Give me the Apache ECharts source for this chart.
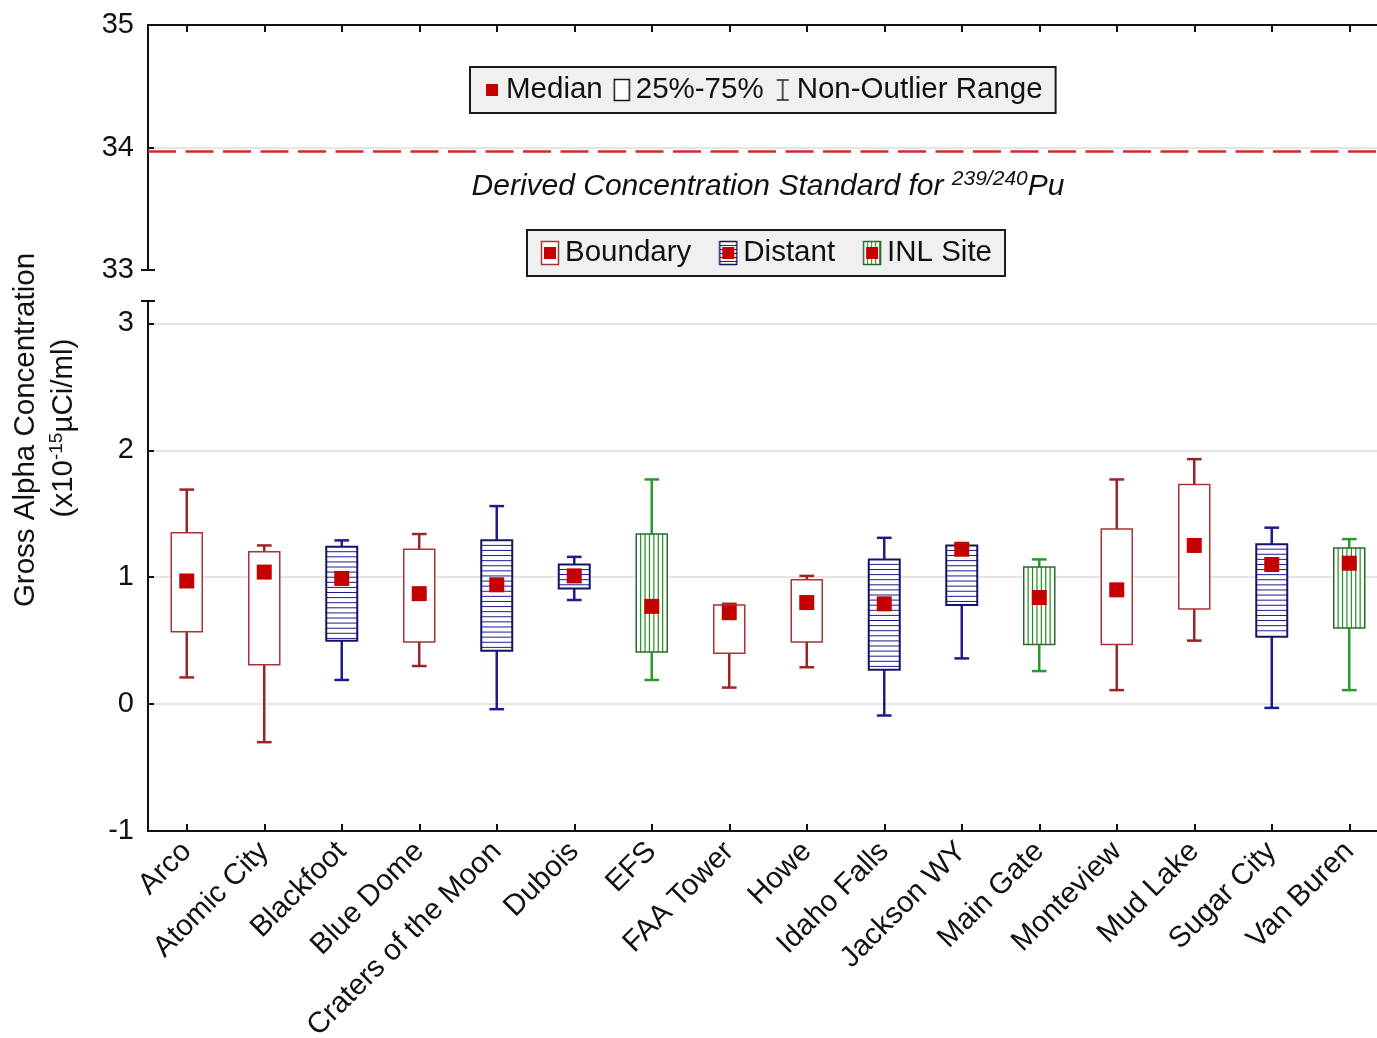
<!DOCTYPE html>
<html><head><meta charset="utf-8">
<script src="https://cdn.jsdelivr.net/npm/echarts@6/dist/echarts.min.js"></script>
<style>html,body{margin:0;padding:0;background:#fff}#c{width:1377px;height:1038px}</style>
</head><body><div id="c"></div>
<script>
// ---------- data ----------
const categories = ['Arco','Atomic City','Blackfoot','Blue Dome','Craters of the Moon','Dubois','EFS','FAA Tower','Howe','Idaho Falls','Jackson WY','Main Gate','Monteview','Mud Lake','Sugar City','Van Buren'];
const groups = ['Boundary','Boundary','Distant','Boundary','Distant','Distant','INL Site','Boundary','Boundary','Distant','Distant','INL Site','Boundary','Boundary','Distant','INL Site'];
const whiskerLow  = [0.21,-0.30,0.19,0.30,-0.04,0.82,0.19,0.13,0.29,-0.09,0.36,0.26,0.11,0.50,-0.03,0.11];
const q1          = [0.57, 0.31,0.50,0.49, 0.42,0.91,0.41,0.40,0.49, 0.27,0.78,0.47,0.47,0.75, 0.53,0.60];
const median      = [0.97, 1.04,0.99,0.87, 0.94,1.01,0.77,0.72,0.80, 0.79,1.22,0.84,0.90,1.25, 1.10,1.11];
const q3          = [1.35, 1.20,1.24,1.22, 1.29,1.10,1.34,0.78,0.98, 1.14,1.25,1.08,1.38,1.73, 1.26,1.23];
const whiskerHigh = [1.69, 1.25,1.29,1.34, 1.56,1.16,1.77,0.79,1.01, 1.31,1.25,1.14,1.77,1.93, 1.39,1.30];
const groupNames = ['Boundary','Distant','INL Site'];
const dcsValue = 33.967;
const topTicks = [33, 34, 35];
const bottomTicks = [-1, 0, 1, 2, 3];
const bottomAxisTop = 3.176;

// ---------- styles ----------
const FONT = "'Liberation Sans', Arial, sans-serif";
const RED = '#c40000';
const groupStyle = {
  'Boundary': {whisker:'#9c2424', box:'#a83434', boxW:1.5, stripe:null},
  'Distant':  {whisker:'#1c1c8e', box:'#141466', boxW:2, stripe:'h', stripeColor:'#1c1c8e'},
  'INL Site': {whisker:'#2a9a2a', box:'#2c682c', boxW:1.5, stripe:'v', stripeColor:'#1f901f'}
};

function makeIcon(w, h, draw){
  const c = document.createElement('canvas');
  c.width = w; c.height = h;
  const ctx = c.getContext('2d');
  draw(ctx, w, h);
  return 'image://' + c.toDataURL();
}
const iconMedian = makeIcon(18, 24, (ctx) => { ctx.fillStyle = RED; ctx.fillRect(3, 6, 12, 12); });
const iconBox = makeIcon(18, 24, (ctx) => { ctx.fillStyle='#fff'; ctx.fillRect(1,1,16,22); ctx.strokeStyle='#111'; ctx.lineWidth=1.5; ctx.strokeRect(1.5,1.5,15,21); });
const iconWhisk = makeIcon(18, 24, (ctx) => { ctx.strokeStyle='#222'; ctx.lineWidth=1.5; ctx.beginPath(); ctx.moveTo(9,2); ctx.lineTo(9,22); ctx.moveTo(3,2); ctx.lineTo(15,2); ctx.moveTo(3,22); ctx.lineTo(15,22); ctx.stroke(); });
function groupIcon(g){
  const s = groupStyle[g];
  return makeIcon(20, 26, (ctx, w, h) => {
    ctx.fillStyle = '#fff'; ctx.fillRect(1,1,w-2,h-2);
    if (s.stripe === 'h') { ctx.strokeStyle = s.stripeColor; ctx.lineWidth = 1; for (let y = 5; y < h-2; y += 4) { ctx.beginPath(); ctx.moveTo(1,y+0.5); ctx.lineTo(w-1,y+0.5); ctx.stroke(); } }
    if (s.stripe === 'v') { ctx.strokeStyle = s.stripeColor; ctx.lineWidth = 1; for (let x = 5; x < w-2; x += 4) { ctx.beginPath(); ctx.moveTo(x+0.5,1); ctx.lineTo(x+0.5,h-1); ctx.stroke(); } }
    ctx.strokeStyle = s.box; ctx.lineWidth = 1.5; ctx.strokeRect(1.5,1.5,w-3,h-3);
    ctx.fillStyle = RED; ctx.fillRect(4, 7, 12, 12);
  });
}

function makeRender(g){
  const s = groupStyle[g];
  return function(params, api){
    const i = api.value(0);
    const pL = api.coord([i, api.value(1)]);
    const p1 = api.coord([i, api.value(2)]);
    const p3 = api.coord([i, api.value(3)]);
    const pH = api.coord([i, api.value(4)]);
    const band = api.size([1, 0])[0];
    const bw = band * 0.40, cw = band * 0.19;
    const x = pL[0];
    const left = x - bw / 2, right = x + bw / 2;
    const wl = {stroke: s.whisker, lineWidth: 2.5};
    const ch = [];
    ch.push({type:'line', shape:{x1:x, y1:pH[1], x2:x, y2:p3[1]}, style:wl});
    ch.push({type:'line', shape:{x1:x, y1:p1[1], x2:x, y2:pL[1]}, style:wl});
    ch.push({type:'line', shape:{x1:x-cw/2, y1:pH[1], x2:x+cw/2, y2:pH[1]}, style:wl});
    ch.push({type:'line', shape:{x1:x-cw/2, y1:pL[1], x2:x+cw/2, y2:pL[1]}, style:wl});
    ch.push({type:'rect', shape:{x:left, y:p3[1], width:bw, height:p1[1]-p3[1]}, style:{fill:'#fff', stroke:null}});
    if (s.stripe === 'h') {
      for (let y = p3[1] + 5; y < p1[1] - 1.5; y += 5.1) {
        ch.push({type:'line', shape:{x1:left, y1:y, x2:right, y2:y}, style:{stroke:s.stripeColor, lineWidth:1}});
      }
    } else if (s.stripe === 'v') {
      for (let xx = left + 4.4; xx < right - 1.5; xx += 4.4) {
        ch.push({type:'line', shape:{x1:xx, y1:p3[1], x2:xx, y2:p1[1]}, style:{stroke:s.stripeColor, lineWidth:1.2}});
      }
    }
    ch.push({type:'rect', shape:{x:left, y:p3[1], width:bw, height:p1[1]-p3[1]}, style:{fill:null, stroke:s.box, lineWidth:s.boxW}});
    return {type:'group', children:ch};
  };
}

const boxSeries = groupNames.map(g => ({
  name: g,
  type: 'custom',
  xAxisIndex: 1, yAxisIndex: 1,
  renderItem: makeRender(g),
  encode: {x: 0, y: [1, 2, 3, 4]},
  data: categories.map((c, i) => groups[i] === g ? [i, whiskerLow[i], q1[i], q3[i], whiskerHigh[i]] : null).filter(d => d),
  z: 2
}));

const axisLineStyle = {color:'#111', width:2};
const labelStyle = {color:'#111', fontSize:29, fontFamily:FONT};
const xTick = {show:true, inside:true, alignWithLabel:true, interval:0, length:7, lineStyle:{color:'#111', width:2}};

const option = {
  animation: false,
  backgroundColor: '#fff',
  textStyle: {fontFamily: FONT},
  grid: [
    {left:148, top:25, width:1240, height:245, outerBoundsMode:'none', containLabel:false},
    {left:148, top:301, width:1240, height:530, outerBoundsMode:'none', containLabel:false}
  ],
  xAxis: [
    {gridIndex:0, type:'category', data:categories, position:'top', boundaryGap:true,
     axisLine:{onZero:false, lineStyle:axisLineStyle}, axisTick:xTick,
     axisLabel:{show:false, interval:0}, splitLine:{show:false}},
    {gridIndex:1, type:'category', data:categories, position:'bottom', boundaryGap:true,
     axisLine:{onZero:false, lineStyle:axisLineStyle}, axisTick:xTick,
     axisLabel:{interval:0, rotate:45, margin:16, color:'#111', fontSize:29.5, fontFamily:FONT}, splitLine:{show:false}}
  ],
  yAxis: [
    {gridIndex:0, type:'value', min:topTicks[0], max:topTicks[topTicks.length-1], interval:1,
     axisLine:{show:true, lineStyle:axisLineStyle}, axisTick:{show:true, inside:true, length:6, lineStyle:{color:'#111', width:2}},
     axisLabel:Object.assign({margin:14}, labelStyle),
     splitLine:{show:true, showMinLine:false, showMaxLine:false, lineStyle:{color:'#dcdcdc', width:1.5}}},
    {gridIndex:1, type:'value', min:bottomTicks[0], max:bottomAxisTop, interval:1,
     axisLine:{show:true, lineStyle:axisLineStyle}, axisTick:{show:true, inside:true, length:6, lineStyle:{color:'#111', width:2}},
     axisLabel:Object.assign({margin:14, showMaxLabel:false}, labelStyle),
     splitLine:{show:true, showMinLine:false, showMaxLine:false, lineStyle:{color:'#dcdcdc', width:1.5}}}
  ],
  legend: [
    {left:470, top:67, orient:'horizontal', selectedMode:false,
     data:[{name:'Median', icon:iconMedian},{name:'25%-75%', icon:iconBox},{name:'Non-Outlier Range', icon:iconWhisk}],
     itemWidth:18, itemHeight:24, itemGap:10, padding:[8,13,8,13],
     backgroundColor:'#f0f0f0', borderColor:'#1a1a1a', borderWidth:2,
     textStyle:{color:'#111', fontSize:29.5, fontFamily:FONT}},
    {left:527, top:230, orient:'horizontal', selectedMode:false,
     data:groupNames.map(g => ({name:g, icon:groupIcon(g)})),
     itemWidth:20, itemHeight:26, itemGap:27, padding:[8,13,8,13],
     backgroundColor:'#f0f0f0', borderColor:'#1a1a1a', borderWidth:2,
     textStyle:{color:'#111', fontSize:29.5, fontFamily:FONT}}
  ],
  series: [
    ...boxSeries,
    {name:'Median', type:'scatter', xAxisIndex:1, yAxisIndex:1, symbol:'rect', symbolSize:15,
     itemStyle:{color:RED, opacity:1}, data:median.map((m, i) => [i, m]), z:5},
    {name:'25%-75%', type:'custom', xAxisIndex:1, yAxisIndex:1, renderItem:() => null, data:[]},
    {name:'Non-Outlier Range', type:'custom', xAxisIndex:1, yAxisIndex:1, renderItem:() => null, data:[]},
    {name:'DCS', type:'line', xAxisIndex:0, yAxisIndex:0, data:[], silent:true,
     markLine:{silent:true, symbol:'none', animation:false,
       lineStyle:{color:'#d42a2a', type:[28,9.5], width:2.5},
       label:{show:true, position:'insideMiddleBottom', distance:17,
         formatter:'{i|Derived Concentration Standard for }{sup|239/240}{i|Pu}',
         rich:{i:{fontSize:30, fontStyle:'italic', color:'#111', fontFamily:FONT, lineHeight:36},
               sup:{fontSize:21, fontStyle:'italic', color:'#111', fontFamily:FONT, verticalAlign:'top', lineHeight:36}}},
       data:[{yAxis:dcsValue}]}}
  ]
};

const chart = echarts.init(document.getElementById('c'), null, {renderer:'canvas'});
chart.setOption(option);

// axis break caps and y-axis title
const yBreakTop = chart.convertToPixel({yAxisIndex:0}, topTicks[0]);
const yBreakBot = chart.convertToPixel({yAxisIndex:1}, bottomAxisTop);
const capStyle = {stroke:'#111', lineWidth:2};
chart.setOption({
  graphic: [
    {type:'line', shape:{x1:148-7, y1:yBreakTop, x2:148+7, y2:yBreakTop}, style:capStyle, z:10},
    {type:'line', shape:{x1:148-7, y1:yBreakBot, x2:148+7, y2:yBreakBot}, style:capStyle, z:10},
    {type:'text', x:26, y:430, rotation:Math.PI/2,
     style:{text:'Gross Alpha Concentration', font:'29.5px ' + FONT, fill:'#111', align:'center', verticalAlign:'middle'}},
    {type:'text', x:64, y:428, rotation:Math.PI/2,
     style:{text:'(x10{sup|-15}µCi/ml)', font:'29.5px ' + FONT, fill:'#111', align:'center', verticalAlign:'middle',
            rich:{sup:{fontSize:19, fontFamily:FONT, fill:'#111', verticalAlign:'top', lineHeight:34}}}}
  ]
});
</script>
</body></html>
